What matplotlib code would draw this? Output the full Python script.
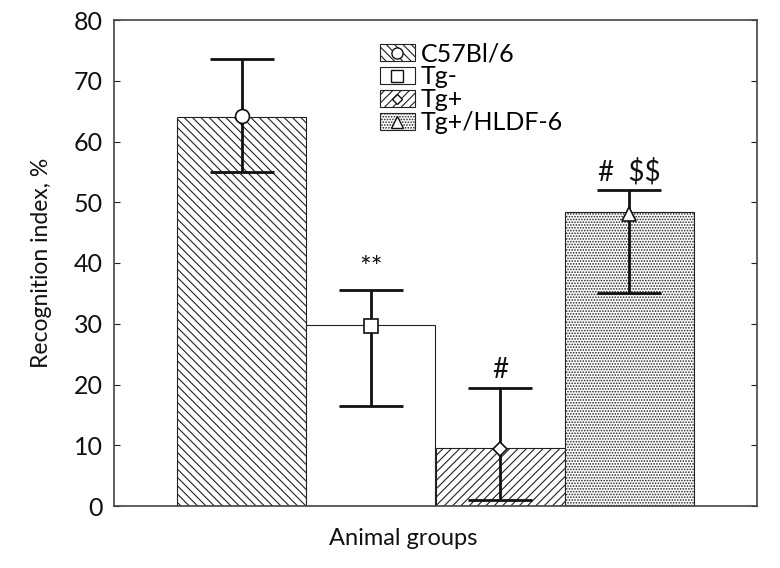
import matplotlib
matplotlib.use("Agg")
import matplotlib.pyplot as plt
from matplotlib.patches import Patch
from matplotlib.lines import Line2D
import numpy as np

plt.rcParams['font.family'] = ['Lato', 'DejaVu Sans']
plt.rcParams['hatch.linewidth'] = 0.8
plt.rcParams['text.parse_math'] = False

groups = ["C57Bl/6", "Tg-", "Tg+", "Tg+/HLDF-6"]
means = [64.0, 29.8, 9.5, 48.4]
marker_vals = [64.2, 29.6, 9.4, 48.0]
err_low = [55.0, 16.5, 1.0, 35.1]
err_high = [73.6, 35.6, 19.4, 52.0]
signif = ["**", "#", "#  $$"]
signif_idx = [1, 2, 3]
hatches = ["\\\\\\\\", "", "////", "......"]
markers = ["o", "s", "D", "^"]
marker_sizes = [10, 10, 7, 10]

fig = plt.figure(figsize=(7.8, 5.68), dpi=100)
ax = fig.add_axes([114/780, 1-506/568, 643/780, 486/568])

x = np.arange(len(groups))
for i in range(len(groups)):
    ax.bar(x[i], means[i], width=1.0, facecolor="white", edgecolor="#222222",
           linewidth=0.8, hatch=hatches[i], zorder=2)

lo = np.array(marker_vals) - np.array(err_low)
hi = np.array(err_high) - np.array(marker_vals)
ax.errorbar(x, marker_vals, yerr=[lo, hi], fmt="none", ecolor="#111111",
            elinewidth=2.0, capsize=23, capthick=2.0, zorder=3)
for i in range(len(groups)):
    ax.plot(x[i], marker_vals[i], marker=markers[i], ms=marker_sizes[i],
            mfc="white", mec="#111111", mew=1.2, zorder=4, linestyle="none")

for s, i in zip(signif, signif_idx):
    fs = 20 if s == "**" else 20
    off = 1.2 if s == "**" else 0.8
    ax.text(x[i], err_high[i] + off, s, ha="center", va="bottom", fontsize=fs,
            color="#111111", zorder=5, parse_math=False)

ax.set_xlim(-0.987, 3.987)
ax.set_ylim(0, 80)
ax.set_yticks(np.arange(0, 81, 10))
ax.set_xticks([])
ax.tick_params(axis="y", direction="in", length=4, labelsize=18, right=True,
               left=True, width=0.8, colors="#222222", labelcolor="#111111", pad=8)
for sp in ax.spines.values():
    sp.set_linewidth(1.2)
    sp.set_color("#444444")
ax.set_ylabel("Recognition index, %", fontsize=16.5, labelpad=16, color="#111111")
ax.set_xlabel("Animal groups", fontsize=17, labelpad=16, color="#111111")
ax.xaxis.set_label_coords(0.449, -0.045, transform=ax.transAxes)
ax.xaxis.label.set_va("top")

handles = []
for i in range(len(groups)):
    p = Patch(facecolor="white", edgecolor="#222222", hatch=hatches[i], linewidth=0.8)
    m = Line2D([], [], marker=markers[i], ms=marker_sizes[i] * 0.8, mfc="white",
               mec="#111111", mew=1.0, linestyle="none")
    handles.append((p, m))
leg = ax.legend(handles, groups, loc="upper left", bbox_to_anchor=(0.39, 0.985),
                frameon=False, fontsize=18, handlelength=1.4, handleheight=0.7,
                handletextpad=0.25, labelspacing=0.0, borderaxespad=0.2)

fig.savefig("out.png", dpi=100)
